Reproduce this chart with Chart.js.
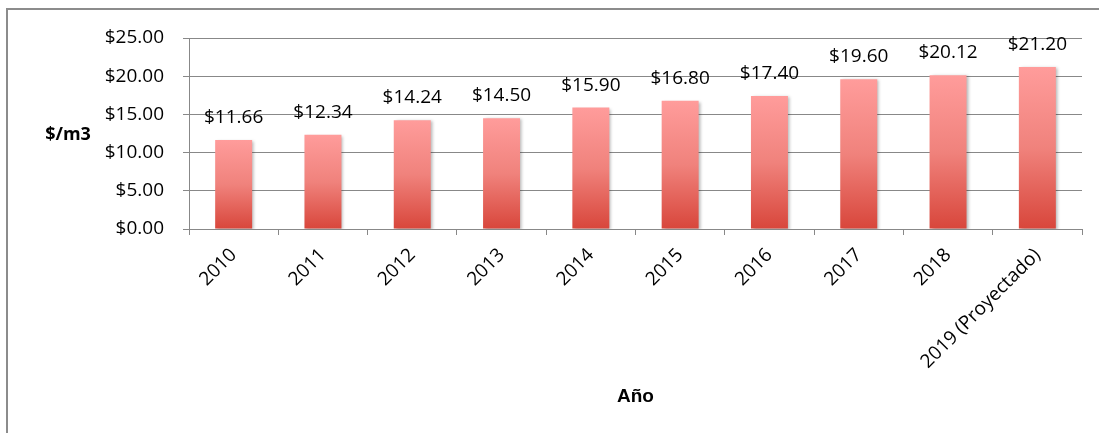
<!DOCTYPE html>
<html>
<head>
<meta charset="utf-8">
<script src="https://cdn.jsdelivr.net/npm/chart.js@4.4.1/dist/chart.umd.min.js"></script>
<style>
  html, body { margin: 0; padding: 0; background: #fff; overflow: hidden; }
  #frame {
    position: absolute; left: 6px; top: 8px; width: 1200px; height: 500px;
    border: 2px solid #8c8c8c; box-sizing: border-box;
  }
  #myChart { position: absolute; left: 0; top: 0; }
</style>
</head>
<body>
<div id="frame"></div>
<canvas id="myChart" width="1099" height="433"></canvas>
<script>
// Datos del gráfico
const categorias = ['2010', '2011', '2012', '2013', '2014', '2015', '2016', '2017', '2018', '2019 (Proyectado)'];
const precios = [11.66, 12.34, 14.24, 14.50, 15.90, 16.80, 17.40, 19.60, 20.12, 21.20];
const ticksY = [0, 5, 10, 15, 20, 25];

const fuente = "'Open Sans', sans-serif";
const gris = '#888888';

function dinero(v) {
  return '$' + Number(v).toFixed(2);
}

// Degradado de cada barra (claro arriba, rojo abajo)
function degradado(context) {
  const chart = context.chart;
  const scale = chart.scales && chart.scales.y;
  if (!chart.chartArea || !scale || context.raw === undefined) return '#ee7f7a';
  const top = scale.getPixelForValue(context.raw);
  const bottom = scale.getPixelForValue(0);
  const g = chart.ctx.createLinearGradient(0, top, 0, bottom);
  g.addColorStop(0, '#ff9c9b');
  g.addColorStop(0.5, '#f0827c');
  g.addColorStop(1, '#d8463b');
  return g;
}

// Sombra de barras, etiquetas de valor y título del eje Y
const extras = {
  id: 'extras',
  beforeDatasetsDraw(chart) {
    const ctx = chart.ctx;
    ctx.save();
    ctx.shadowColor = 'rgba(0,0,0,0.28)';
    ctx.shadowBlur = 3;
    ctx.shadowOffsetX = 2;
    ctx.shadowOffsetY = 1;
  },
  afterDatasetsDraw(chart) {
    const ctx = chart.ctx;
    ctx.restore();
    ctx.save();
    ctx.fillStyle = '#000';
    ctx.font = "19px " + fuente;
    ctx.textAlign = 'center';
    ctx.textBaseline = 'alphabetic';
    const meta = chart.getDatasetMeta(0);
    meta.data.forEach(function(bar, i) {
      ctx.fillText(dinero(precios[i]), bar.x, bar.y - 17);
    });
    ctx.font = "bold 18px " + fuente;
    ctx.textBaseline = 'middle';
    ctx.fillText('$/m3', 68, 135);
    ctx.restore();
  }
};

const ctx = document.getElementById('myChart').getContext('2d');
const myChart = new Chart(ctx, {
  type: 'bar',
  data: {
    labels: categorias,
    datasets: [{
      label: 'Precio',
      data: precios,
      backgroundColor: degradado,
      borderWidth: 0,
      barPercentage: 0.414,
      categoryPercentage: 1
    }]
  },
  options: {
    responsive: false,
    animation: false,
    layout: {
      padding: { top: 38, right: 17, bottom: 0, left: 0 }
    },
    plugins: {
      legend: { display: false },
      tooltip: { enabled: false }
    },
    scales: {
      x: {
        grid: {
          offset: true,
          drawOnChartArea: false,
          color: gris,
          tickLength: 6
        },
        border: { color: gris, width: 1 },
        ticks: {
          autoSkip: false,
          minRotation: 45,
          maxRotation: 45,
          color: '#000',
          padding: 9,
          font: { family: fuente, size: 19 }
        },
        title: {
          display: true,
          text: 'Año',
          color: '#000',
          font: { family: "'Liberation Sans', Arial, sans-serif", size: 19, weight: 'bold', lineHeight: 1.2 },
          padding: { top: 0, bottom: 25 }
        },
        afterFit(scale) {
          scale.height = 204;
        }
      },
      y: {
        min: 0,
        max: 25,
        afterBuildTicks(scale) {
          scale.ticks = ticksY.map(function(v) { return { value: v }; });
        },
        grid: {
          color: gris,
          tickLength: 6
        },
        border: { color: gris, width: 1 },
        ticks: {
          color: '#000',
          padding: 19,
          font: { family: fuente, size: 19 },
          callback: function(v) { return dinero(v); }
        },
        afterFit(scale) {
          scale.width = 189;
        }
      }
    }
  },
  plugins: [extras]
});
</script>
</body>
</html>
